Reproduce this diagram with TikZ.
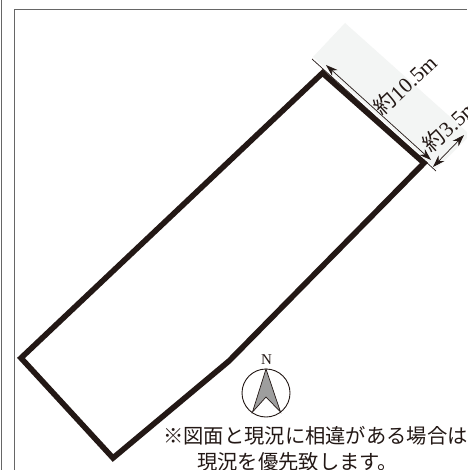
\documentclass[tikz,border=0pt]{standalone}
\usepackage{fontspec}
\setmainfont{Liberation Serif}
\newfontfamily\jp{Noto Sans CJK JP}
\usetikzlibrary{arrows.meta}
\definecolor{ink}{HTML}{231815}
\definecolor{stripcolor}{HTML}{F3F5F4}
\tikzset{
  x=1pt,y=-1pt,
  frameline/.style={draw=black!60,line width=1.5pt},
  lot/.style={draw=ink,line width=5.6pt,line join=miter,miter limit=10},
  dim/.style={draw=ink,line width=0.7pt},
  dimarrow/.style={dim,{Stealth[length=12pt,width=8pt]}-{Stealth[length=12pt,width=8pt]}},
  dimlabel/.style={text=ink,inner sep=0pt,font=\fontsize{21.5}{21.5}\selectfont,rotate=43},
  note/.style={text=ink,inner sep=0pt,font=\fontsize{20.3}{21}\selectfont\jp,anchor=west},
}
\begin{document}
\begin{tikzpicture}
\useasboundingbox (0,0) rectangle (467,470);
\clip (0,0) rectangle (467,470);
\fill[white] (0,0) rectangle (467,470);
% page frame
\draw[frameline] (1.5,0) -- (1.5,470);
\draw[frameline] (14.5,470) -- (14.5,9.5) -- (467,9.5);
% neighbouring strip
\fill[stripcolor] (345,23) -- (313,57) -- (436,169) -- (467,138) -- (467,132) -- cycle;
% lot outline
\draw[lot] (322.5,73) -- (424,163) -- (229,361) -- (113,458) -- (21,358) -- cycle;
% dimensions
\coordinate (extA) at (312,59);
\coordinate (extB) at (436,171);
\coordinate (arA) at (326,65);
\coordinate (arB) at (431,160);
\coordinate (brA) at (433,167);
\coordinate (brB) at (464,135);
\draw[dim] (extA) -- (extB);
\draw[dimarrow] (arA) -- (arB);
\draw[dimarrow] (brA) -- (brB);
\node[dimlabel] (len) at (405,85) {{\jp 約}10.5m};
\node[dimlabel] (wid) at (450,125) {{\jp 約}3.5m};
% north mark
\node[text=ink,inner sep=0pt,font=\fontsize{15}{15}\selectfont] (north) at (266.5,360) {N};
\draw[draw=ink,line width=0.9pt] (266,393) circle[radius=24];
\draw[draw=ink,line width=0.7pt,fill=black!38] (266,369) -- (280.5,412) -- (266,397) -- (252.5,412) -- cycle;
% note
\node[note] (noteA) at (163,436) {※図面と現況に相違がある場合は};
\node[note] (noteB) at (197,462) {現況を優先致します。};
\end{tikzpicture}
\end{document}
